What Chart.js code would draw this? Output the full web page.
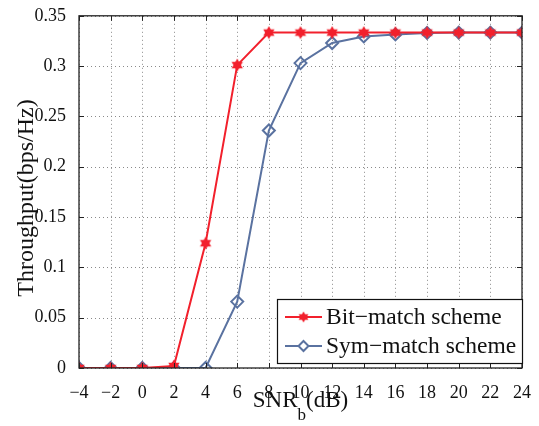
<!DOCTYPE html>
<html>
<head>
<meta charset="utf-8">
<script src="https://cdn.jsdelivr.net/npm/chart.js@4.4.0/dist/chart.umd.min.js"></script>
<style>
  html, body { margin: 0; padding: 0; background: #fff; }
  #wrap { width: 539px; height: 426px; }
</style>
</head>
<body>
<div id="wrap"><canvas id="tputChart" width="539" height="426"></canvas></div>
<script>
const snr = [-4, -2, 0, 2, 4, 6, 8, 10, 12, 14, 16, 18, 20, 22, 24];
const bitMatch = [0, 0, 0, 0.002, 0.124, 0.301, 0.3333, 0.3333, 0.3333, 0.3333, 0.3333, 0.3333, 0.3333, 0.3333, 0.3333];
const symMatch = [0, 0, 0, 0, 0, 0.066, 0.236, 0.303, 0.323, 0.3295, 0.3315, 0.333, 0.3333, 0.3333, 0.3333];
const yTicks = [0, 0.05, 0.1, 0.15, 0.2, 0.25, 0.3, 0.35];

const RED = "#f2202c";
const BLUE = "#5a72a0";
const FONT = "'Liberation Serif', 'DejaVu Serif', serif";

// six-point star marker
function hexagram(size, color){
    const c = document.createElement("canvas");
    c.width = size; c.height = size;
    const g = c.getContext("2d");
    const r = size/2 - 0.5, cx = size/2, cy = size/2;
    g.fillStyle = color;
    [ -Math.PI/2, Math.PI/2 ].forEach(a0 => {
        g.beginPath();
        for(let i=0;i<3;i++){
            const a = a0 + i*2*Math.PI/3;
            const x = cx + r*Math.cos(a), y = cy + r*Math.sin(a);
            if(i===0) g.moveTo(x,y); else g.lineTo(x,y);
        }
        g.closePath();
        g.fill();
    });
    return c;
}
const starImg = hexagram(14, RED);

// dotted grid, drawn under the lines
const dottedGrid = {
    id: "dottedGrid",
    beforeDatasetsDraw(chart){
        const {ctx, chartArea:a, scales} = chart;
        ctx.save();
        ctx.strokeStyle = "#8a8a8a";
        ctx.lineWidth = 1;
        ctx.setLineDash([1,3]);
        ctx.beginPath();
        snr.forEach(v => {
            const x = Math.round(scales.x.getPixelForValue(v)) + 0.5;
            ctx.moveTo(x, a.top); ctx.lineTo(x, a.bottom);
        });
        yTicks.forEach(v => {
            const y = Math.round(scales.y.getPixelForValue(v)) + 0.5;
            ctx.moveTo(a.left, y); ctx.lineTo(a.right, y);
        });
        ctx.stroke();
        ctx.restore();
    }
};

const frame = {
    id: "frame",
    afterDraw(chart){
        const {ctx, chartArea:a, scales} = chart;
        ctx.save();
        // inward ticks on all sides
        ctx.strokeStyle = "#222";
        ctx.lineWidth = 1;
        ctx.beginPath();
        snr.forEach(v => {
            const x = Math.round(scales.x.getPixelForValue(v)) + 0.5;
            ctx.moveTo(x, a.bottom); ctx.lineTo(x, a.bottom - 5);
            ctx.moveTo(x, a.top); ctx.lineTo(x, a.top + 5);
        });
        yTicks.forEach(v => {
            const y = Math.round(scales.y.getPixelForValue(v)) + 0.5;
            ctx.moveTo(a.left, y); ctx.lineTo(a.left + 5, y);
            ctx.moveTo(a.right, y); ctx.lineTo(a.right - 5, y);
        });
        ctx.stroke();
        ctx.lineWidth = 1.3;
        ctx.strokeRect(a.left, a.top, a.right - a.left, a.bottom - a.top);

        // axis titles
        ctx.fillStyle = "#111";
        ctx.textBaseline = "alphabetic";
        const p1 = "SNR", p2 = "b", p3 = "(dB)";
        ctx.font = "23px " + FONT;
        const w1 = ctx.measureText(p1).width, w3 = ctx.measureText(p3).width;
        ctx.font = "17px " + FONT;
        const w2 = ctx.measureText(p2).width;
        let x0 = (a.left + a.right)/2 - (w1+w2+w3)/2;
        const yb = 407;
        ctx.textAlign = "left";
        ctx.font = "23px " + FONT;
        ctx.fillText(p1, x0, yb);
        ctx.font = "17px " + FONT;
        ctx.fillText(p2, x0 + w1, yb + 13);
        ctx.font = "23px " + FONT;
        ctx.fillText(p3, x0 + w1 + w2, yb);

        ctx.save();
        ctx.translate(27, 198);
        ctx.rotate(-Math.PI/2);
        ctx.textAlign = "center";
        ctx.textBaseline = "middle";
        ctx.font = "24px " + FONT;
        ctx.fillText("Throughput(bps/Hz)", 0, 0);
        ctx.restore();

        // legend box
        const lx = 277, ly = 299, lw = a.right - lx, lh = 64;
        ctx.fillStyle = "#fff";
        ctx.fillRect(lx, ly, lw, lh);
        ctx.strokeStyle = "#111";
        ctx.lineWidth = 1.2;
        ctx.strokeRect(lx + 0.5, ly + 0.5, lw, lh);
        const rows = [
            {label: "Bit\u2212match scheme", color: RED, y: ly + 18},
            {label: "Sym\u2212match scheme", color: BLUE, y: ly + 47}
        ];
        rows.forEach(r => {
            ctx.strokeStyle = r.color;
            ctx.lineWidth = 2;
            ctx.beginPath();
            ctx.moveTo(285, r.y); ctx.lineTo(322, r.y);
            ctx.stroke();
            if(r.color === RED){
                ctx.drawImage(starImg, 303.5 - 6, r.y - 6, 12, 12);
            } else {
                ctx.fillStyle = "#fff";
                ctx.beginPath();
                ctx.moveTo(303.5, r.y - 5); ctx.lineTo(308.5, r.y);
                ctx.lineTo(303.5, r.y + 5); ctx.lineTo(298.5, r.y);
                ctx.closePath();
                ctx.fill(); ctx.stroke();
            }
            ctx.fillStyle = "#111";
            ctx.font = "23.5px " + FONT;
            ctx.textAlign = "left";
            ctx.textBaseline = "middle";
            ctx.fillText(r.label, 326, r.y + 1);
        });
        ctx.restore();
    }
};

new Chart(document.getElementById("tputChart"), {
    type: "line",
    data: {
        datasets: [
            {
                label: "Bit-match scheme",
                data: snr.map((x,i) => ({x: x, y: bitMatch[i]})),
                borderColor: RED,
                backgroundColor: RED,
                borderWidth: 2,
                pointStyle: starImg,
                pointRadius: 7,
                tension: 0
            },
            {
                label: "Sym-match scheme",
                data: snr.map((x,i) => ({x: x, y: symMatch[i]})),
                borderColor: BLUE,
                backgroundColor: "rgba(255,255,255,0)",
                borderWidth: 2,
                pointStyle: "rectRot",
                pointRadius: 6,
                pointBorderWidth: 2,
                tension: 0
            }
        ]
    },
    options: {
        responsive: false,
        animation: false,
        layout: {padding: {left: 0, right: 17, top: 13, bottom: 0}},
        plugins: {
            legend: {display: false},
            tooltip: {enabled: false}
        },
        scales: {
            x: {
                type: "linear",
                min: -4, max: 24,
                afterBuildTicks(s){ s.ticks = snr.map(v => ({value: v})); },
                afterFit(s){ s.height = 58; },
                grid: {display: false},
                border: {display: false},
                ticks: {
                    padding: 6,
                    color: "#111",
                    font: {family: FONT, size: 18},
                    callback: v => String(v).replace("-", "\u2212")
                }
            },
            y: {
                min: 0, max: 0.35,
                afterBuildTicks(s){ s.ticks = yTicks.map(v => ({value: v})); },
                afterFit(s){ s.width = 79; },
                grid: {display: false},
                border: {display: false},
                ticks: {
                    padding: 5,
                    color: "#111",
                    font: {family: FONT, size: 18},
                    callback: v => String(Number(v.toFixed(2)))
                }
            }
        }
    },
    plugins: [dottedGrid, frame]
});
</script>
</body>
</html>
